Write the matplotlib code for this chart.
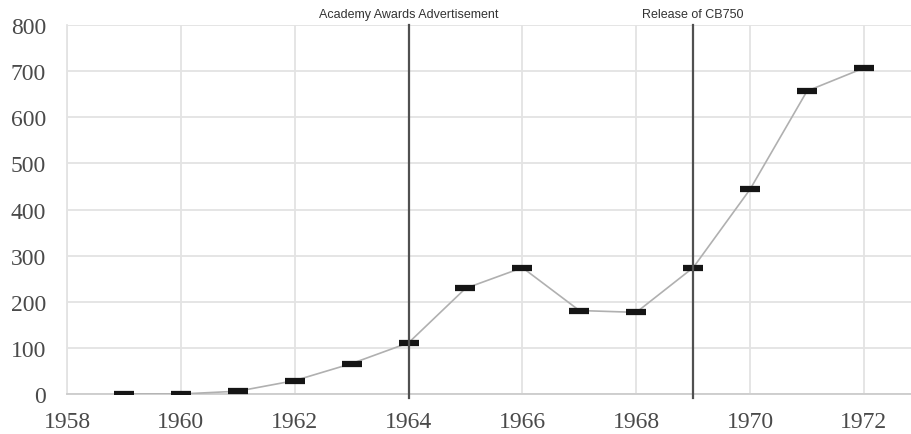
import matplotlib.pyplot as plt

# sales per year
years = [1959, 1960, 1961, 1962, 1963, 1964, 1965, 1966, 1967, 1968, 1969, 1970, 1971, 1972]
sales = [0, 0, 6, 29, 66, 111, 229, 274, 181, 177, 274, 444, 657, 707]

# events marked on the chart
event_years = [1964, 1969]
event_labels = ['Academy Awards Advertisement', 'Release of CB750']

xticks = [1958, 1960, 1962, 1964, 1966, 1968, 1970, 1972]
yticks = [0, 100, 200, 300, 400, 500, 600, 700, 800]

fig = plt.figure(figsize=(9.12, 4.35), dpi=100)
ax = fig.add_axes([0.0735, 0.092, 0.925, 0.848])

ax.plot(years, sales, '-', color='#b0b0b0', linewidth=1.2, zorder=3)
ax.plot(years, sales, linestyle='none', marker='_', markersize=14,
        markeredgewidth=4.5, color='#151515', zorder=4)

for yr, lab in zip(event_years, event_labels):
    ax.axvline(yr, ymin=-0.01, ymax=1, color='#505050', linewidth=1.6,
               clip_on=False, zorder=5)
    ax.text(yr, 812, lab, ha='center', va='bottom', fontsize=9,
            family='Liberation Sans', color='#333333')

ax.set_xlim(1958, 1972.82)
ax.set_ylim(0, 800)
ax.set_xticks(xticks)
ax.set_yticks(yticks)
ax.grid(True, color='#e3e3e3', linewidth=1.3)
ax.set_axisbelow(True)
for s in ['top', 'right']:
    ax.spines[s].set_visible(False)
ax.spines['left'].set_color('#e3e3e3')
ax.spines['left'].set_linewidth(1.3)
ax.spines['bottom'].set_color('#cccccc')
ax.spines['bottom'].set_linewidth(1.3)
ax.tick_params(length=0, labelsize=17, labelcolor='#4a4a4a')
ax.tick_params(axis='y', pad=15)
ax.tick_params(axis='x', pad=12)
for t in ax.get_xticklabels() + ax.get_yticklabels():
    t.set_family('Liberation Serif')

plt.savefig('out.png', dpi=100)
